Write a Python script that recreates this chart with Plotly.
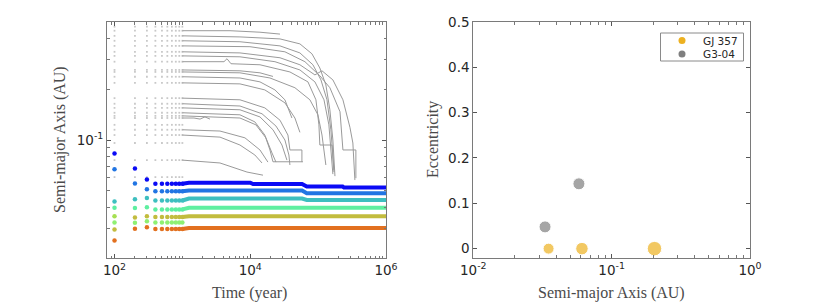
import numpy as np
import plotly.graph_objects as go

# ---------------- Left panel data ----------------
early_times = [100, 200, 300, 400, 500, 600, 700, 800, 900, 1000]

# coloured embryos: early discrete outputs (t = 100 ... 1000)
blue_early = [0.0833, 0.0679, 0.0583, 0.0551, 0.0551, 0.0551, 0.0551, 0.0551, 0.0551, 0.0551]
medblue_early = [0.0670, 0.0552, 0.0511, 0.0497, 0.0497, 0.0497, 0.0497, 0.0497, 0.0497, 0.0497]
teal_early = [0.0432, 0.0446, 0.0454, 0.0438, 0.0438, 0.0438, 0.0438, 0.0438, 0.0438, 0.0438]
mint_early = [0.0397, 0.0395, 0.0399, 0.0388, 0.0388, 0.0388, 0.0388, 0.0388, 0.0388, 0.0388]
yellowgreen_early = [0.0354]
lightgreen_early = [0.0325, 0.0324, 0.0330, 0.0325, 0.0325, 0.0325, 0.0325, 0.0325, 0.0325, 0.0325]
olive_early = [0.0295, 0.0348, 0.0353, 0.0350, 0.0350, 0.0350, 0.0350, 0.0350, 0.0350, 0.0350]
orange_early = [0.0254, 0.0298, 0.0304, 0.0297, 0.0297, 0.0297, 0.0297, 0.0297, 0.0297, 0.0297]

# coloured embryos: continuous evolution afterwards
blue_t = [1000, 1250, 10000, 11000, 58000, 68000, 230000, 240000, 1e6]
blue_a = [0.0551, 0.0558, 0.0558, 0.0548, 0.0548, 0.0530, 0.0530, 0.0524, 0.0524]
medblue_t = [1000, 1250, 58000, 68000, 1e6]
medblue_a = [0.0497, 0.0502, 0.0502, 0.0484, 0.0484]
teal_t = [1000, 1250, 58000, 68000, 1e6]
teal_a = [0.0438, 0.0450, 0.0450, 0.0441, 0.0441]
mint_t = [1000, 1250, 1e6]
mint_a = [0.0388, 0.0397, 0.0397]
olive_t = [1000, 1250, 1e6]
olive_a = [0.0350, 0.0353, 0.0353]
orange_t = [1000, 1250, 1e6]
orange_a = [0.0297, 0.0301, 0.0301]

# planetesimal tracks (grey)
gray_track_t = [
    [1000, 5030, 13900, 27400],
    [1000, 7050, 27400, 53900, 81100, 106000, 130000, 149000, 165000, 177000],
    [1000, 7050, 27400, 53900, 83800, 110000, 135000, 154000, 171000],
    [1000, 9900, 32400, 63900, 106000, 149000, 210000, 232000, 360000, 360000],
    [1000, 7050, 27400, 53900, 89700, 114000, 165000, 232000, 294000, 325000, 348000],
    [1000, 7050, 23100, 53900, 89700, 122000, 144000, 160000, 165000],
    [1000, 4100, 4540, 5200, 13900, 38400, 70800, 92800, 102700, 106000, 160000, 165000, 171000],
    [1000, 7050, 13900, 21600],
    [1000, 7050, 19500, 45500, 75700, 99300, 114000, 130000],
    [1000, 7050, 13900, 23100, 32400, 37100, 41100],
    [1000, 7050, 16400, 32400, 45500, 53900],
    [1000, 7050, 16400, 27400, 35900, 38400, 57700, 57700],
    [1000, 7050, 14900, 23900, 32400, 37100, 38400],
    [1000, 7050, 13900, 21600, 29300, 34700],
    [1000, 7050, 11700, 16400, 19500, 21600, 59700],
    [1000, 7050, 12100, 17000, 20900, 23900],
    [1000, 3580, 8350, 13900, 18200],
    [1000, 3580, 7050, 11700, 14900],
    [1000, 3580, 8940, 15400],
    [1000, 1480, 1820, 2150, 2550],
]
gray_track_a = [
    [0.444, 0.444, 0.435, 0.424],
    [0.414, 0.408, 0.397, 0.371, 0.324, 0.267, 0.212, 0.151, 0.100, 0.0611],
    [0.387, 0.382, 0.361, 0.328, 0.279, 0.227, 0.173, 0.115, 0.0664],
    [0.361, 0.357, 0.333, 0.291, 0.240, 0.204, 0.147, 0.0873, 0.0873, 0.0594],
    [0.333, 0.328, 0.307, 0.279, 0.243, 0.257, 0.227, 0.173, 0.119, 0.096, 0.0579],
    [0.315, 0.311, 0.291, 0.260, 0.221, 0.173, 0.123, 0.0760, 0.0628],
    [0.291, 0.291, 0.303, 0.283, 0.279, 0.253, 0.221, 0.173, 0.123, 0.0934, 0.0934, 0.0760, 0.0646],
    [0.260, 0.257, 0.250, 0.238],
    [0.253, 0.250, 0.233, 0.204, 0.173, 0.141, 0.107, 0.0711],
    [0.237, 0.233, 0.221, 0.198, 0.173, 0.151, 0.135],
    [0.218, 0.215, 0.198, 0.166, 0.135, 0.111],
    [0.177, 0.173, 0.155, 0.131, 0.107, 0.0873, 0.0873, 0.0740],
    [0.164, 0.159, 0.143, 0.121, 0.100, 0.0815, 0.0711],
    [0.155, 0.151, 0.137, 0.115, 0.0934, 0.0760],
    [0.145, 0.141, 0.128, 0.107, 0.0873, 0.0743, 0.0743],
    [0.139, 0.135, 0.123, 0.103, 0.0838, 0.0740],
    [0.115, 0.113, 0.103, 0.0873, 0.0740],
    [0.107, 0.104, 0.0934, 0.0815, 0.0731],
    [0.0760, 0.0731, 0.0646, 0.0619],
    [0.135, 0.135, 0.133, 0.137, 0.133],
]
# planetesimals only seen in the early outputs
extra_dot_a = [0.469, 0.123, 0.096, 0.0603]

# ---------------- Right panel data ----------------
system_names = ["GJ 357", "G3-04"]
gj357_a = [0.035, 0.061, 0.204]
gj357_e = [0.0, 0.0, 0.0]
gj357_size = [11, 12.5, 14.5]
g304_a = [0.033, 0.058]
g304_e = [0.048, 0.143]
g304_size = [12, 12]

# ---------------- Styles ----------------
C_BLUE = "#0a0af5"
C_MEDBLUE = "#2175e3"
C_TEAL = "#3dbfbf"
C_MINT = "#5eefa0"
C_YG = "#a6e052"
C_LG = "#8ff072"
C_OLIVE = "#c2bc3e"
C_ORANGE = "#e2701f"
C_GRAY_LINE = "#9a9a9a"
C_GRAY_DOT = "#c8c8c8"
C_GOLD = "#edb120"
C_GREY_PT = "#7f7f7f"

W, H = 830, 304
OFF = 8  # default page margin around the plot div
def px_x(p):
    return (p - OFF) / W
def px_y(p):
    return 1 - (p - OFF) / H

fig = go.Figure()

# grey early dots
dot_x, dot_y = [], []
for row in [tr[0] for tr in gray_track_a] + extra_dot_a:
    for t in early_times:
        dot_x.append(t)
        dot_y.append(row)
fig.add_trace(go.Scatter(x=dot_x, y=dot_y, mode="markers",
                         marker=dict(size=1.8, color=C_GRAY_DOT, symbol="square"),
                         showlegend=False, hoverinfo="skip", xaxis="x", yaxis="y"))
# grey tracks
for tt, aa in zip(gray_track_t, gray_track_a):
    fig.add_trace(go.Scatter(x=tt, y=aa, mode="lines",
                             line=dict(color=C_GRAY_LINE, width=1),
                             showlegend=False, hoverinfo="skip", xaxis="x", yaxis="y"))

# coloured bands
for tt, aa, c in [(blue_t, blue_a, C_BLUE), (medblue_t, medblue_a, C_MEDBLUE),
                  (teal_t, teal_a, C_TEAL), (mint_t, mint_a, C_MINT),
                  (olive_t, olive_a, C_OLIVE), (orange_t, orange_a, C_ORANGE)]:
    fig.add_trace(go.Scatter(x=tt, y=aa, mode="lines",
                             line=dict(color=c, width=4),
                             showlegend=False, hoverinfo="skip", xaxis="x", yaxis="y"))
# coloured early outputs
for vals, c in [(blue_early, C_BLUE), (medblue_early, C_MEDBLUE), (teal_early, C_TEAL),
                (mint_early, C_MINT), (yellowgreen_early, C_YG), (lightgreen_early, C_LG),
                (olive_early, C_OLIVE), (orange_early, C_ORANGE)]:
    fig.add_trace(go.Scatter(x=early_times[:len(vals)], y=vals, mode="markers",
                             marker=dict(size=4.5, color=c),
                             showlegend=False, hoverinfo="skip", xaxis="x", yaxis="y"))

# right panel
fig.add_trace(go.Scatter(x=g304_a, y=g304_e, mode="markers", name="G3-04",
                         marker=dict(size=g304_size, color=C_GREY_PT),
                         showlegend=False, xaxis="x2", yaxis="y2"))
fig.add_trace(go.Scatter(x=gj357_a, y=gj357_e, mode="markers", name="GJ 357",
                         marker=dict(size=gj357_size, color=C_GOLD),
                         showlegend=False, xaxis="x2", yaxis="y2"))

# compact legend (swatches drawn in a small overlay axes)
LEG_L, LEG_R, LEG_T, LEG_B = 660.5, 743.5, 33, 61
fig.add_shape(type="rect", xref="paper", yref="paper",
              x0=px_x(LEG_L), x1=px_x(LEG_R), y0=px_y(LEG_B), y1=px_y(LEG_T),
              line=dict(color="#8a8a8a", width=1), fillcolor="white", layer="below")
fig.add_trace(go.Scatter(x=[0.5, 0.5], y=[1, 0], mode="markers", cliponaxis=False,
                         marker=dict(size=7, color=[C_GOLD, C_GREY_PT]),
                         showlegend=False, hoverinfo="skip", xaxis="x3", yaxis="y3"))
for i, name in enumerate(system_names):
    fig.add_annotation(text=name, x=px_x(700.5), y=px_y(40.5 + 13.5 * i), xref="paper", yref="paper",
                       showarrow=False, xanchor="left", yanchor="middle",
                       font=dict(family="DejaVu Sans", size=10.5, color="#262626"))

TICKFONT = dict(family="DejaVu Sans", size=13.5, color="#262626")
common = dict(showline=True, linecolor="#7a7a7a", linewidth=1, mirror="allticks",
              ticks="inside", ticklen=4, tickcolor="#555555", showgrid=False,
              zeroline=False, tickfont=TICKFONT, tickmode="array", automargin=False)

minor_x_left = [m * 10 ** k for k in range(1, 6) for m in range(2, 10)] + [1e3, 1e5]
minor_y_left = [0.02, 0.03, 0.04, 0.05, 0.06, 0.07, 0.08, 0.09, 0.2, 0.3, 0.4, 0.5]
minor_x_right = [m * 10 ** k for k in (-2, -1) for m in range(2, 10)]

hidden = dict(visible=False, showgrid=False, zeroline=False, fixedrange=True)

fig.update_layout(
    template="none",
    width=W, height=H, margin=dict(l=0, r=0, t=0, b=0, autoexpand=False),
    paper_bgcolor="white", plot_bgcolor="rgba(0,0,0,0)", showlegend=False,
    xaxis=dict(type="log", domain=[px_x(107), px_x(386)], range=[np.log10(77.5), 6],
               anchor="y", tickvals=[1e2, 1e4, 1e6],
               ticktext=["10<sup>2</sup>", "10<sup>4</sup>", "10<sup>6</sup>"],
               minor=dict(ticks="inside", ticklen=2.5, tickcolor="#777777", tickvals=minor_x_left),
               **common),
    yaxis=dict(type="log", domain=[px_y(258), px_y(22)], range=[np.log10(0.02), np.log10(0.5)],
               anchor="x", tickvals=[0.1], ticktext=["10<sup>-1</sup>"],
               minor=dict(ticks="inside", ticklen=2.5, tickcolor="#777777", tickvals=minor_y_left),
               **common),
    xaxis2=dict(type="log", domain=[px_x(473.3), px_x(750)], range=[-2, 0],
                anchor="y2", tickvals=[0.01, 0.1, 1],
                ticktext=["10<sup>-2</sup>", "10<sup>-1</sup>", "10<sup>0</sup>"],
                minor=dict(ticks="inside", ticklen=2.5, tickcolor="#777777", tickvals=minor_x_right),
                **common),
    yaxis2=dict(domain=[px_y(257.7), px_y(22)], range=[-0.02, 0.5], anchor="x2",
                tickvals=[0, 0.1, 0.2, 0.3, 0.4, 0.5],
                ticktext=["0", "0.1", "0.2", "0.3", "0.4", "0.5"], **common),
    xaxis3=dict(domain=[px_x(672), px_x(692)], range=[0, 1], anchor="y3", **hidden),
    yaxis3=dict(domain=[px_y(54), px_y(40.5)], range=[0, 1], anchor="x3", **hidden),
)

TITLEFONT = dict(family="Liberation Serif", size=16, color="#4a4a4a")
fig.add_annotation(text="Time (year)", x=px_x(249), y=px_y(293), xref="paper", yref="paper",
                   showarrow=False, font=TITLEFONT, xanchor="center", yanchor="middle")
fig.add_annotation(text="Semi-major Axis (AU)", x=px_x(60), y=px_y(140), xref="paper", yref="paper",
                   showarrow=False, font=TITLEFONT, textangle=-90, xanchor="center", yanchor="middle")
fig.add_annotation(text="Eccentricity", x=px_x(433), y=px_y(140), xref="paper", yref="paper",
                   showarrow=False, font=TITLEFONT, textangle=-90, xanchor="center", yanchor="middle")
fig.add_annotation(text="Semi-major Axis (AU)", x=px_x(611), y=px_y(293), xref="paper", yref="paper",
                   showarrow=False, font=TITLEFONT, xanchor="center", yanchor="middle")

fig.write_html("out.html")
